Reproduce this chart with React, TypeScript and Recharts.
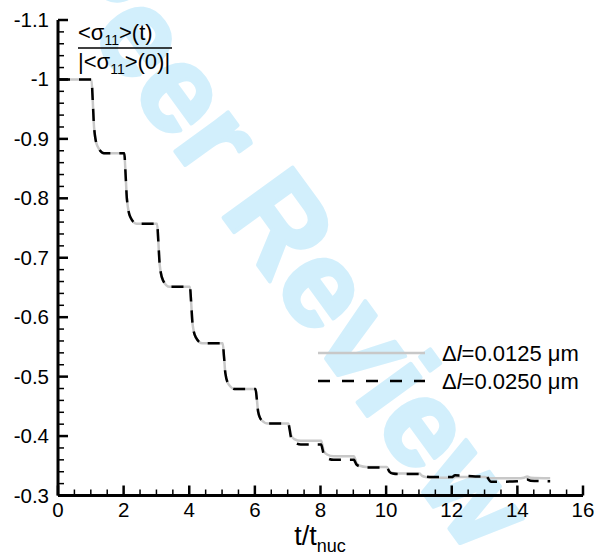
import React from "react";
import { LineChart, Line, XAxis, YAxis, Legend } from "recharts";

// t / t_nuc sample points
const time = [
  0,
  1.02, 1.06, 1.1, 1.2, 1.4,
  2.02, 2.06, 2.1, 2.2, 2.4,
  3.02, 3.06, 3.1, 3.2, 3.4,
  4.02, 4.06, 4.1, 4.2, 4.4,
  5.02, 5.06, 5.1, 5.2, 5.4,
  6.02, 6.06, 6.1, 6.2, 6.4,
  7.02, 7.06, 7.1, 7.2, 7.4,
  8.02, 8.06, 8.1, 8.2, 8.4,
  9.02, 9.06, 9.1, 9.2, 9.4,
  10.02, 10.06, 10.1, 10.2, 10.4,
  11.02, 11.06, 11.1, 11.2, 11.4,
  12.0, 12.1, 12.9, 13.0, 13.2, 14.0, 14.2, 14.3, 14.4, 15.0,
];

// dl = 0.0125 um
const fine = [
  -1.0,
  -1.0, -0.963, -0.919, -0.888, -0.876,
  -0.876, -0.84, -0.799, -0.769, -0.757,
  -0.757, -0.725, -0.688, -0.662, -0.651,
  -0.651, -0.623, -0.589, -0.566, -0.556,
  -0.556, -0.533, -0.506, -0.487, -0.479,
  -0.479, -0.462, -0.441, -0.427, -0.421,
  -0.421, -0.412, -0.402, -0.395, -0.392,
  -0.392, -0.384, -0.375, -0.369, -0.366,
  -0.366, -0.361, -0.354, -0.35, -0.348,
  -0.348, -0.345, -0.341, -0.338, -0.337,
  -0.337, -0.335, -0.333, -0.331, -0.33,
  -0.33, -0.331, -0.331, -0.331, -0.329, -0.329, -0.33, -0.332, -0.33, -0.329,
];

// dl = 0.0250 um
const coarse = [
  -1.0,
  -1.0, -0.963, -0.919, -0.888, -0.876,
  -0.876, -0.84, -0.799, -0.769, -0.757,
  -0.757, -0.725, -0.688, -0.662, -0.651,
  -0.651, -0.623, -0.589, -0.566, -0.556,
  -0.556, -0.533, -0.506, -0.487, -0.479,
  -0.479, -0.462, -0.441, -0.427, -0.421,
  -0.421, -0.411, -0.398, -0.39, -0.386,
  -0.386, -0.378, -0.369, -0.363, -0.36,
  -0.36, -0.356, -0.352, -0.349, -0.347,
  -0.347, -0.344, -0.34, -0.337, -0.336,
  -0.336, -0.334, -0.333, -0.332, -0.331,
  -0.331, -0.334, -0.332, -0.336, -0.323, -0.324, -0.326, -0.327, -0.325, -0.324,
];

const xMajor = [0, 2, 4, 6, 8, 10, 12, 14, 16];
const yMajor = [-1.1, -1, -0.9, -0.8, -0.7, -0.6, -0.5, -0.4, -0.3];

const legendLabels = ["0.0125", "0.0250"];

const FONT = "'Liberation Sans', Arial, Helvetica, sans-serif";

// majors plus evenly spaced minor ticks in between
function withMinor(major: number[], n: number): number[] {
  const out: number[] = [];
  for (let i = 0; i < major.length; i++) {
    out.push(major[i]);
    if (i < major.length - 1) {
      const step = (major[i + 1] - major[i]) / (n + 1);
      for (let k = 1; k <= n; k++) {
        out.push(Math.round((major[i] + step * k) * 1000) / 1000);
      }
    }
  }
  return out;
}

const xTicks = withMinor(xMajor, 3);
const yTicks = withMinor(yMajor, 4);

const data = time.map((t, i) => ({ t, fine: fine[i], coarse: coarse[i] }));

const XTick = (props: any) => {
  const { x, y, payload } = props;
  const major = xMajor.includes(payload.value);
  return (
    <g>
      <line
        x1={x}
        x2={x}
        y1={y}
        y2={y - (major ? 10 : 6)}
        stroke="#000"
        strokeWidth={major ? 2.5 : 1.5}
      />
      {major && (
        <text x={x} y={y + 21} textAnchor="middle" fontSize={20.5} fontFamily={FONT} fill="#000">
          {payload.value}
        </text>
      )}
    </g>
  );
};

const YTick = (props: any) => {
  const { x, y, payload } = props;
  const major = yMajor.includes(payload.value);
  return (
    <g>
      <line
        x1={x}
        x2={x + (major ? 10 : 6)}
        y1={y}
        y2={y}
        stroke="#000"
        strokeWidth={major ? 2.5 : 1.5}
      />
      {major && (
        <text x={x - 9} y={y + 7} textAnchor="end" fontSize={20.5} fontFamily={FONT} fill="#000">
          {String(payload.value)}
        </text>
      )}
    </g>
  );
};

const renderLegend = () => (
  <div style={{ fontFamily: FONT, fontSize: 22, color: "#000" }}>
    {legendLabels.map((lbl, i) => (
      <div key={lbl} style={{ display: "flex", alignItems: "center", height: 28 }}>
        <svg width={107} height={10} style={{ marginRight: 17, flexShrink: 0 }}>
          <line
            x1={0}
            x2={107}
            y1={5}
            y2={5}
            stroke={i === 0 ? "#c8c8c8" : "#000"}
            strokeWidth={2.5}
            strokeDasharray={i === 0 ? undefined : "12 12"}
          />
        </svg>
        <span style={{ whiteSpace: "nowrap", position: "relative", top: 1 }}>
          Δ<i>l</i>={lbl} μm
        </span>
      </div>
    ))}
  </div>
);

export default function App() {
  return (
    <div style={{ position: "absolute", left: 0, top: 0, width: 594, height: 553, background: "#fff", overflow: "hidden" }}>
      {/* watermark */}
      <svg width={594} height={553} style={{ position: "absolute", left: 0, top: 0 }}>
        <text
          x={290}
          y={236}
          textAnchor="middle"
          dominantBaseline="central"
          fontSize={124}
          fontWeight="bold"
          fontFamily={FONT}
          fill="#d2effc"
          stroke="#d2effc"
          strokeWidth={4}
          strokeLinejoin="round"
          transform="rotate(54 290 236)"
        >
          Peer Review
        </text>
      </svg>

      <div style={{ position: "absolute", left: 0, top: 0 }}>
        <LineChart
          width={594}
          height={553}
          data={data}
          margin={{ top: 20, right: 11, bottom: 0, left: 0 }}
        >
          <XAxis
            type="number"
            dataKey="t"
            domain={[0, 16]}
            ticks={xTicks}
            interval={0}
            height={57.5}
            tickSize={0}
            tickMargin={0}
            tickLine={false}
            axisLine={{ stroke: "#000", strokeWidth: 3 }}
            tick={<XTick />}
          />
          <YAxis
            type="number"
            domain={[-1.1, -0.3]}
            reversed
            allowDataOverflow
            ticks={yTicks}
            interval={0}
            width={58}
            tickSize={0}
            tickMargin={0}
            tickLine={false}
            axisLine={{ stroke: "#000", strokeWidth: 3 }}
            tick={<YTick />}
          />
          <Line
            type="monotone"
            dataKey="fine"
            stroke="#c8c8c8"
            strokeWidth={2.5}
            dot={false}
            isAnimationActive={false}
          />
          <Line
            type="monotone"
            dataKey="coarse"
            stroke="#000"
            strokeWidth={2.5}
            strokeDasharray="12 9"
            dot={false}
            isAnimationActive={false}
          />
          <Legend
            layout="vertical"
            align="center"
            verticalAlign="middle"
            wrapperStyle={{ left: 318, top: 339, width: 276 }}
            content={renderLegend}
          />
        </LineChart>
      </div>

      {/* axis titles */}
      <svg
        width={594}
        height={553}
        style={{ position: "absolute", left: 0, top: 0, pointerEvents: "none" }}
        fontFamily={FONT}
      >
        <text x={78} y={40} fontSize={22} fill="#000">
          &lt;σ<tspan fontSize={14} dy={5}>11</tspan>
          <tspan dy={-5}>&gt;(t)</tspan>
        </text>
        <line x1={78} x2={172} y1={48} y2={48} stroke="#000" strokeWidth={1.5} />
        <text x={78} y={69} fontSize={22} fill="#000">
          |&lt;σ<tspan fontSize={14} dy={5}>11</tspan>
          <tspan dy={-5}>&gt;(0)|</tspan>
        </text>
        <text x={320} y={545} textAnchor="middle" fontSize={27} fill="#000">
          t/t<tspan fontSize={18} dy={7}>nuc</tspan>
        </text>
      </svg>
    </div>
  );
}
